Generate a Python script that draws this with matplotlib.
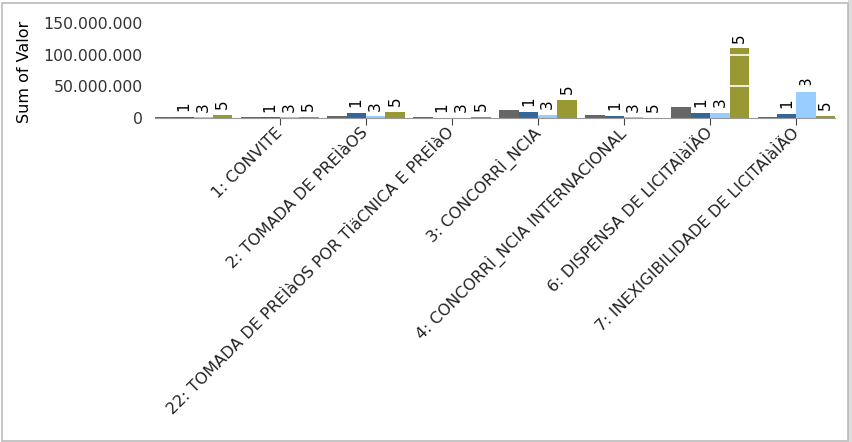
import matplotlib
matplotlib.use("Agg")
import matplotlib.pyplot as plt
import numpy as np
from matplotlib.patches import Rectangle

categories = ["", "1: CONVITE", "2: TOMADA DE PREÌàOS",
              "22: TOMADA DE PREÌàOS POR TÌäCNICA E PREÌàO",
              "3: CONCORRÌ_NCIA", "4: CONCORRÌ_NCIA INTERNACIONAL",
              "6: DISPENSA DE LICITAÌàÌÄO", "7: INEXIGIBILIDADE DE LICITAÌàÌÄO"]
series_names = ["0", "1", "3", "5"]
series_labels = ["", "1", "3", "5"]
values = {
    "0": [0.8, 0.8, 3.2, 1.0, 12.7, 4.7, 17.0, 1.5],
    "1": [1.5, 1.3, 8.0, 0.4, 9.5, 3.2, 8.0, 6.9],
    "3": [1.0, 1.0, 2.8, 0.3, 4.7, 1.4, 8.5, 41.7],
    "5": [4.7, 1.8, 9.5, 1.5, 28.5, 0.3, 110.0, 3.7],
}
colors = ["#666666", "#336699", "#99ccff", "#999933"]
yticks = [0, 50e6, 100e6, 150e6]
ytick_labels = ["0", "50.000.000", "100.000.000", "150.000.000"]

fig = plt.figure(figsize=(8.52, 4.42), dpi=100)
fig.patch.set_facecolor("white")
ax = fig.add_axes([155/852, 1-118/442, 680/852, 95/442])

x = np.arange(len(categories))
w = 0.225
for k, name in enumerate(series_names):
    vals = np.array(values[name]) * 1e6
    off = (k - 1.5) * w
    ax.bar(x + off, vals, width=w, color=colors[k], zorder=2)
    if series_labels[k]:
        for xi, v in zip(x + off, vals):
            ax.annotate(series_labels[k], (xi, v), xytext=(0, 4),
                        textcoords="offset points", rotation=90,
                        ha="center", va="bottom", fontsize=11,
                        color="black")

ax.set_xlim(-0.45, 7.45)
ax.set_ylim(0, 150e6)
ax.set_yticks(yticks)
ax.set_yticklabels(ytick_labels, fontsize=11.3, color="#333333")
ax.tick_params(axis="y", length=0, pad=9)
for g in [50e6, 100e6]:
    ax.axhline(g, color="white", lw=1.2, zorder=3)

ax.set_xticks(x[1:])
ax.set_xticklabels(categories[1:], rotation=45, ha="right",
                   va="center", rotation_mode="anchor", fontsize=11.5,
                   color="#222222")
ax.tick_params(axis="x", length=5, color="#444444", pad=4)

for s in ["top", "right", "left"]:
    ax.spines[s].set_visible(False)
ax.spines["bottom"].set_color("#999999")
ax.spines["bottom"].set_zorder(4)
ax.set_ylabel("Sum of Valor", fontsize=11.5, color="black")
ax.yaxis.set_label_coords(-123/680, 0.49)

# outer frame and right strip
fig.patches.append(Rectangle((848/852, 0), 4/852, 1, transform=fig.transFigure,
                             facecolor="#dddddd", edgecolor="none", zorder=0))
fig.patches.append(Rectangle((1.5/852, 1.5/442), 846/852, 438/442,
                             transform=fig.transFigure, facecolor="none",
                             edgecolor="#bbbbbb", lw=1.2, zorder=5))

fig.savefig("out.png", dpi=100)
